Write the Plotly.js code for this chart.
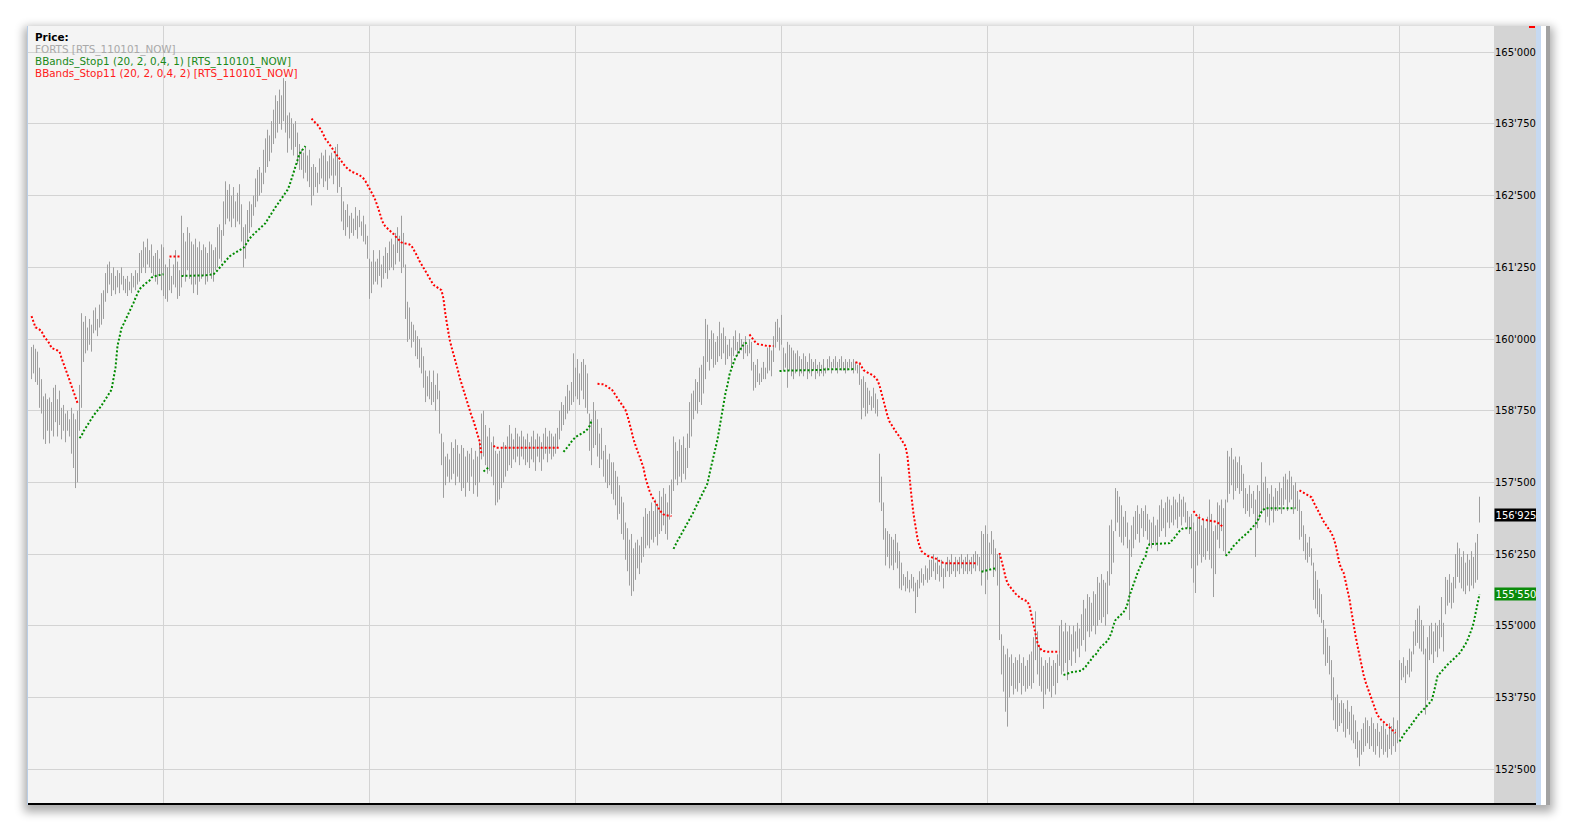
<!DOCTYPE html>
<html>
<head>
<meta charset="utf-8">
<script src="https://cdn.plot.ly/plotly-3.0.1.min.js"></script>
<style>
html,body{margin:0;padding:0;background:#ffffff;width:1576px;height:833px;overflow:hidden;}
#outer{position:absolute;left:27px;top:26px;width:1518px;height:779px;background:#ffffff;
  border-left:1px solid #b9cde5;border-right:4px solid #a2a2a2;
  box-shadow:0 4px 9px 3px rgba(0,0,0,0.33);}
#chart{position:absolute;left:0;top:0;width:1508px;height:777px;}
#bottomline{position:absolute;left:0;top:777px;width:1508px;height:2px;background:#000;}
#bluestrip{position:absolute;left:1508px;top:0;width:5px;height:779px;background:#c6d9f1;}
</style>
</head>
<body>
<div id="outer"><div id="chart"></div><div id="bottomline"></div><div id="bluestrip"></div></div>
<script>
// ---------------- DATA ----------------
const seriesNames = ["FORTS [RTS_110101_NOW]", "BBands_Stop1 (20, 2, 0,4, 1) [RTS_110101_NOW]", "BBands_Stop11 (20, 2, 0,4, 2) [RTS_110101_NOW]"];
const panelTitle = "Price:";
const priceTicks = [152500,153750,155000,156250,157500,158750,160000,161250,162500,163750,165000];
const lastPrice = 156925;

const priceHigh = [159860,159900,159830,159780,159500,159300,159000,159050,158950,158980,
158900,159150,159200,158950,159100,158800,158850,158700,158750,158600,
158800,158700,158600,158750,159200,160450,160300,
160400,160200,160350,160250,160500,160550,160350,160600,160800,160850,161150,161300,161350,161150,
161250,161100,161200,161150,161250,161100,161050,161100,161000,161150,161100,161200,161150,161500,161550,
161700,161600,161750,161550,161650,161450,161500,161550,161400,161650,161600,
161300,161250,161400,161100,161300,161550,161350,161200,162150,161850,161700,161950,161850,161700,
161650,161750,161600,161700,161550,161650,161600,161500,161700,161650,161550,161600,161950,162000,161900,
162400,162750,162600,162700,162500,162650,162400,162550,162700,162350,161950,162000,162250,162400,162350,
162500,162800,162950,163000,162900,163300,163500,163650,163550,163800,164000,164250,164150,164350,164250,
164550,164500,163900,163950,163850,163750,163800,163600,163400,163300,163250,163350,163200,163300,163000,
163050,163000,162900,163150,163250,163200,163300,163100,163200,163250,163150,163350,163400,163100,162650,
162400,162250,162350,162150,162200,162100,162300,162150,162250,162050,162150,162000,161800,161400,161350,
161550,161350,161400,161550,161300,161450,161600,161500,161700,161750,161650,161850,161950,161800,162150,
161850,161300,160650,160550,160300,160250,160150,160050,160000,159850,159700,159450,159350,159450,159250,
159450,159200,159400,159100,158350,158200,157950,158000,157900,158200,158100,158250,158150,158000,158150,
158100,157950,158050,158000,158100,157900,158050,157950,158200,158700,158750,158500,158300,158450,158200,
158300,158050,158000,158050,158100,158200,158150,158300,158500,158350,158250,158450,158350,158300,158400,
158300,158250,158350,158200,158300,158400,158250,158350,158300,158200,158350,158450,158300,158400,158350,
158300,158350,158450,158750,158900,158850,159000,159200,159100,159250,159750,159500,159650,159400,159600,
159650,159550,159400,158700,158600,158900,158750,158600,158350,158450,158050,158150,157900,158000,157850,
157850,157700,157600,157450,157250,157150,156800,156700,156500,156600,156350,156450,156500,156400,156550,
156900,157050,156950,157000,157150,157000,157200,157100,157350,157250,157400,157300,157150,157450,157550,
158300,158200,158050,158250,158150,158300,158100,158350,158900,159050,159100,159300,159250,159500,159550,
159700,160350,160250,160000,160150,160100,159950,160050,160300,160100,160200,160050,159900,160000,159850,
160050,160150,159950,160100,160000,159950,160050,159900,160000,159950,159600,159550,159650,159400,159500,159600,159500,
159850,159900,159800,160050,160300,160350,160200,160420,159850,159750,159950,159900,159850,159800,159750,159800,159700,159650,159750,159700,159600,159750,159650,159600,159650,159550,159600,159550,159650,159500,
159650,159700,159600,159650,159700,159600,159650,159700,159600,159650,159600,159650,159600,159650,159600,159550,
159550,159300,159350,159250,159150,159100,159000,159150,159050,158950,
158000,157600,157150,156700,156650,156600,156550,156500,156600,156450,156300,156100,155900,155850,155950,155800,155900,155850,155750,155800,155950,156000,155900,156050,156000,156150,
156150,156250,156100,156200,156050,156150,156000,156100,156200,156150,156250,156100,156200,156150,156200,156250,156150,156200,156250,156150,156200,156250,156300,156250,156200,
156650,156600,156750,156600,156450,156650,156500,156350,156250,156250,154850,154650,154500,154600,154450,154500,154350,154450,154400,154500,154350,154450,154300,154400,154500,
154550,154800,155250,154900,154650,154450,154300,154400,154350,154450,154300,154400,154350,154500,155000,155100,154900,155050,154900,155000,154850,155000,154900,155050,154950,155200,
155450,155300,155550,155500,155400,155600,155550,155850,155750,155900,155800,155750,155950,156750,156850,156650,157400,157350,157250,157100,156900,157000,156800,156500,156750,156900,
157000,157100,156950,157050,157000,157100,156950,156850,156800,156900,156750,156850,157100,157200,157050,157150,157250,157200,157100,157250,157200,157150,157300,157200,157250,157150,157000,156900,
156950,156800,156650,156900,156950,156750,156850,156700,156900,157200,156950,156650,156750,157150,157100,157200,157050,157200,158050,157950,158100,157900,157950,157850,157950,157800,
157650,157400,157300,157450,157300,157350,157200,157450,157350,157850,157500,157600,157400,157300,157450,157250,157400,157350,157500,157400,157600,157650,157550,157700,157600,157450,157500,157350,
157200,157000,156750,156600,156450,156550,156350,156100,155950,155800,155650,155550,155100,154950,154800,154650,154400,154100,153750,153800,153650,153700,153650,153550,153700,153500,153600,153450,
153350,153150,153000,153200,153300,153400,153350,153250,153400,153300,153200,153300,153150,153250,153300,153200,153100,153300,153250,153400,153200,153350,154400,154350,154450,154300,154400,154600,154550,
154900,155100,155300,155350,155100,155000,154600,154800,155000,155050,154900,155050,155000,155100,155500,155050,155850,155800,155900,155750,155850,156250,156450,156350,156200,156300,156100,156250,156150,156300,156200,156450,156600,157250];

const priceLow = [159300,159400,159250,159200,158800,158700,158250,158170,158400,158180,
158400,158300,158550,158300,158500,158250,158400,158200,158400,158300,
158000,157750,157400,157500,158400,158800,159600,
159750,159800,159900,159780,160100,160150,160050,160200,160250,160350,160650,160800,160950,160750,
160850,160780,160900,160800,160950,160850,160800,160750,160850,160800,160900,160850,160950,161000,161150,
161250,161150,161300,161250,161150,161100,161000,160950,161100,160850,160750,
160700,160650,160850,160800,160950,160900,160700,160750,160900,161100,161000,161200,161050,160950,
160800,160950,160770,161000,161050,161100,160950,161000,161150,161050,161000,161200,161250,161400,161350,
161800,162000,162100,162050,161950,162100,161950,162050,162000,161700,161250,161400,161700,161850,161950,
162150,162300,162400,162500,162550,162700,162900,163000,163100,163250,163400,163500,163600,163750,163650,
163800,163600,163250,163500,163300,163200,163350,163050,162950,162950,162800,162900,162750,162650,162330,
162500,162650,162550,162700,162800,162650,162750,162600,162800,162850,162700,162850,162550,162650,162050,
161900,161800,161950,161750,161850,161800,161900,161750,161950,161800,161700,161650,161400,160700,160800,
160950,161000,160950,161100,160900,161050,161150,161050,161200,161250,161200,161300,161500,161350,161150,
161250,160350,159950,160000,159850,159950,159700,159650,159500,159400,159150,158900,159000,158950,158850,
158900,158750,158950,158350,157800,157230,157450,157600,157500,157550,157650,157450,157600,157500,157350,
157400,157250,157500,157350,157600,157300,157450,157250,157500,157900,157950,157800,157650,157700,157600,
157450,157100,157150,157200,157400,157500,157600,157700,157800,157750,157900,157850,157950,157800,157950,
157900,157800,157850,157750,157900,157850,157700,157950,157850,157700,157900,158000,157850,158000,157900,
157950,158000,158100,158250,158400,158500,158600,158700,158750,158850,158900,159000,158950,158850,159100,
158950,158800,158700,158050,157800,158100,158150,157950,157750,157900,157600,157500,157400,157450,157300,
157200,157100,156850,156950,156600,156500,156150,155950,155700,155520,155600,155800,156000,155900,156100,
156200,156350,156400,156350,156500,156450,156550,156400,156600,156650,156750,156600,156500,156850,156950,
157350,157550,157450,157600,157500,157650,157550,157750,158100,158300,158600,158750,158700,158900,158850,
159050,159300,159600,159450,159650,159500,159550,159600,159700,159650,159750,159550,159650,159700,159500,
159700,159800,159700,159750,159800,159650,159750,159700,159750,159450,159100,159150,159250,159200,159250,159300,159300,
159400,159450,159350,159600,159850,159950,159800,159900,159450,159500,159150,159450,159350,159300,159400,159450,159350,159400,159350,159450,159300,159400,159350,159450,159300,159400,159350,159400,159350,159400,
159450,159500,159400,159500,159450,159400,159500,159450,159450,159400,159450,159500,159450,159400,159450,159400,
159200,158600,158800,158650,158700,158850,158750,158800,158700,158650,
157150,157000,156500,156050,156200,156000,156050,155970,156100,156000,155650,155620,155700,155600,155650,155580,155650,155600,155220,155500,155650,155750,155700,155800,155750,155800,
155850,155950,155800,155900,155770,155850,155650,155850,155950,155850,155900,155950,155850,155950,155900,156000,155900,155950,155900,155950,155900,156000,155950,156050,155950,
155700,155950,155550,155800,156000,156250,155850,155950,155700,154750,154150,153850,153500,153240,153750,153950,153800,153900,153850,154000,153800,153950,153850,153900,153950,
153900,154000,154400,154150,153950,153850,153550,153800,153900,153850,153750,153950,153800,154000,154300,154150,154200,154350,154050,154400,154300,154550,154350,154600,154450,154650,
154750,154550,154900,154800,154900,155000,154850,155000,155100,155050,155150,155000,155200,155700,155900,156100,156650,156800,156550,156450,156400,156550,156350,155100,156200,156350,
156500,156600,156450,156700,156550,156650,156500,156400,156350,156450,156400,156300,156550,156650,156700,156550,156800,156700,156800,156750,156850,156700,156900,156750,156900,156800,156700,156600,
156000,155750,155570,156050,156250,156100,156200,156150,156300,156150,156000,155500,155900,156500,156350,156650,156300,156250,157150,157300,157450,157200,157350,157400,157300,157350,
157050,156950,157000,156900,157050,156950,156200,156700,156850,156950,157000,156800,156900,156750,157000,156800,157000,157000,157100,156950,157100,157200,157000,157150,157200,156950,157050,157000,
156500,156550,156300,156150,156100,156200,156050,155450,155300,155200,155150,155050,154500,154300,154350,154150,153700,153350,153200,153150,153250,153300,153150,153050,153200,153100,153000,152950,
152850,152700,152550,152750,152800,152900,152950,152850,152900,152800,152750,152900,152700,152850,152750,152800,152700,152850,152750,152900,152800,152950,153050,154050,154100,154000,154150,154100,154200,
154500,154650,154700,154600,154550,154500,153450,153700,154400,154500,154350,154550,154450,154600,154800,154550,155200,155350,155400,155300,155400,155650,155850,155750,155650,155600,155550,155700,155600,155700,155650,155750,155800,156800];

// BBands_Stop1 (green) segments: first bar index of each segment and its values
const stop1Starts = [24, 75, 226, 266, 321, 374, 475, 516, 597, 684];
const stop1Values = [
 [158270,158310,158390,158450,158510,158570,158615,158665,158710,158745,158795,158840,158900,158955,159000,159060,159115,159310,159500,159880,160060,160190,160260,160330,160410,160490,160560,160630,160715,160800,160870,160905,160940,160970,160995,161020,161070,161090,161100,161105,161115,161125,161130],
 [161100,161100,161100,161100,161100,161100,161105,161105,161105,161105,161110,161110,161110,161115,161120,161125,161130,
  161160,161200,161240,161290,161330,161370,161410,161440,161465,161485,161505,161525,161545,161565,161590,161640,161700,161750,161790,161830,
  161860,161890,161920,161950,161980,162020,162080,162140,162190,162250,162300,162350,162400,162450,162490,162530,162600,162680,162790,162940,
  163050,163160,163230,163280,163330,163365],
 [157690,157720,157750,157775],
 [158030,158070,158105,158160,158210,158250,158290,158310,158330,158350,158365,158390,158430,158480,158570],
 [156340,156420,156480,156540,156600,156660,156720,156780,156850,156910,156980,157060,157130,157200,157260,157330,157400,157480,157650,157800,157950,158080,158250,158450,158650,158880,159060,159200,159380,159490,159600,159680,159730,159800,159850,159900,159930,159950],
 [159440,159445,159450,159450,159450,159450,159450,159450,159450,159450,159450,159450,159460,159460,159460,159460,159460,159460,159460,159460,159460,159460,159470,159470,159470,159470,159470,159470,159470,159470,159470,159470,159475,159475,159475,159475,159475,159475],
 [155940,155950,155960,155975,155985,155990,155995,156000],
 [154140,154155,154170,154180,154188,154194,154198,154205,154212,154216,154250,154280,154340,154365,154420,154470,154490,154550,154600,154640,
  154670,154690,154735,154800,154880,155010,155100,155135,155170,155195,155235,155290,155380,155520,155620,155720,155856,155920,156000,156080,
  156160,156205,156370,156420,156427,156427,156427,156427,156427,156427,156427,156427,156427,156440,156480,156510,156560,156610,156650,156683,
  156700,156700,156700,156700,156700],
 [156220,156245,156290,156345,156390,156420,156470,156500,156530,156570,156590,156620,156660,156695,156730,156775,156830,156920,156985,157025,
  157050,157050,157050,157050,157050,157050,157050,157050,157050,157050,157050,157050,157050,157050,157050,157050],
 [152980,153040,153100,153150,153180,153230,153280,153330,153390,153430,153470,153500,153540,153570,153610,153650,153690,153810,153950,154120,
  154160,154195,154240,154280,154320,154350,154375,154420,154450,154490,154520,154570,154620,154680,154750,154830,154930,155040,155200,155370,155550]
];

// BBands_Stop11 (red) segments
const stop11Starts = [0, 69, 140, 231, 283, 359, 412, 484, 581, 634];
const stop11Values = [
 [160400,160300,160200,160190,160165,160140,160060,160010,159975,159920,159845,159825,159815,159800,159780,159670,159580,159475,159370,159285,159180,159075,158990,158885],
 [161440,161440,161440,161440,161440,161440],
 [163845,163797,163768,163738,163691,163633,163562,163486,163445,163386,163339,163292,163239,163192,163151,163090,163040,163005,162975,162946,162917,
  162905,162893,162875,162858,162828,162799,162752,162693,162623,162564,162494,162417,162329,162212,162095,162007,161960,161930,161901,161872,
  161831,161789,161754,161713,161684,161672,161666,161660,161649,161625,161566,161508,161437,161361,161302,161244,161185,161114,161050,160991,
  160944,160921,160903,160874,160850,160700,160420,160170,160000,159860,159747,159629,159483,159336,159218,159101,158984,158866,158778,158661,
  158573,158455,158338,158220,157986],
 [158140,158105,158105,158105,158105,158105,158105,158105,158105,158105,158105,158105,158105,158105,158105,158105,158105,158105,158105,158105,158105,158105,158105,158105,158105,158105,158105,158105,158105,158105,158105,158105,158105,158105],
 [159218,159218,159218,159210,159189,159160,159142,159130,159072,159013,158972,158913,158866,158807,158761,158661,158543,158397,158250,158132,
  158044,157956,157868,157751,157574,157457,157352,157270,157199,157146,157093,157017,156976,156941,156929,156917,156917,156911],
 [160080,160030,159990,159940,159915,159905,159895,159885,159880,159878,159878,159878,159878],
 [159593,159590,159582,159520,159460,159435,159415,159400,159380,159360,159320,159280,159190,159050,158900,158780,158660,158560,158500,158450,
  158380,158340,158300,158240,158180,158130,157950,157550,157250,156950,156720,156520,156390,156300,156270,156240,156220,156205,156195,156185,
  156175,156160,156125,156105,156095,156090,156090,156090,156090,156090,156090,156090,156090,156090,156090,156090,156090,156090,156090,156090,156090,156090],
 [156270,156150,156000,155850,155740,155690,155640,155595,155560,155525,155490,155470,155452,155440,155425,155340,155180,155000,154830,154700,
  154620,154576,154560,154550,154547,154547,154547,154547,154547,154547,154547],
 [157000,156950,156900,156880,156862,156850,156843,156839,156835,156831,156827,156815,156800,156770,156740,156715],
 [157360,157340,157310,157290,157270,157258,157240,157160,157090,157030,156970,156890,156820,156770,156720,156670,156615,156530,156420,156250,
  156080,155990,155930,155780,155640,155460,155240,155010,154830,154650,154460,154280,154150,154020,153920,153820,153710,153620,153500,153435,
  153400,153350,153324,153290,153250,153215,153180,153150,153130]
];

// ---------------- BUILD ----------------
const N = priceHigh.length;
const idx = priceHigh.map((_, i) => i);
function expandSegments(starts, values) {
  const out = new Array(N).fill(null);
  starts.forEach((s, k) => values[k].forEach((v, j) => { if (s + j < N) out[s + j] = v; }));
  return out;
}
const stop1 = expandSegments(stop1Starts, stop1Values);
const stop11 = expandSegments(stop11Starts, stop11Values);
const lastStop1 = stop1[N - 1];

const barX = [], barY = [];
for (let i = 0; i < N; i++) { barX.push(i, i, null); barY.push(priceLow[i], priceHigh[i], null); }

const fmt = v => { const s = String(Math.round(v)); return s.slice(0, -3) + "'" + s.slice(-3); };

const W = 1508, H = 777, MR = 42, PW = W - MR;
const FONT = "DejaVu Sans, Verdana, sans-serif";
const GREEN = "#008a00", RED = "#ff0000", GRID = "#d3d3d3";

const traces = [
  {type: 'scatter', mode: 'lines', x: barX, y: barY, connectgaps: false,
   line: {color: '#9e9e9e', width: 1}, hoverinfo: 'skip', showlegend: false},
  {type: 'scatter', mode: 'lines', x: idx, y: stop1, connectgaps: false, name: seriesNames[1],
   line: {color: GREEN, width: 2, dash: '2px,2px'}, showlegend: false},
  {type: 'scatter', mode: 'lines', x: idx, y: stop11, connectgaps: false, name: seriesNames[2],
   line: {color: RED, width: 2, dash: '2px,2px'}, showlegend: false}
];

const legendLines = [
  {text: '<b>' + panelTitle + '</b>', color: '#000000', dy: 11.3},
  {text: seriesNames[0], color: '#a9a9a9', dy: 23.3},
  {text: seriesNames[1], color: '#1a8a1a', dy: 35.3},
  {text: seriesNames[2], color: '#ff1a1a', dy: 47.3}
];
const annotations = legendLines.map(l => ({
  xref: 'paper', yref: 'paper', x: 6 / PW, y: 1 - l.dy / H, xanchor: 'left', yanchor: 'middle',
  text: l.text, showarrow: false, borderpad: 0, font: {family: FONT, size: 10.4, color: l.color}
}));
annotations.push({xref: 'paper', yref: 'y', x: 1, y: lastPrice, xanchor: 'left', yanchor: 'middle',
  text: fmt(lastPrice), showarrow: false, bgcolor: '#000000', borderpad: 0, width: 42, height: 12,
  font: {family: FONT, size: 10, color: '#ffffff'}});
annotations.push({xref: 'paper', yref: 'y', x: 1, y: lastStop1, xanchor: 'left', yanchor: 'middle',
  text: fmt(lastStop1), showarrow: false, bgcolor: '#0b8b0b', borderpad: 0, width: 42, height: 12,
  font: {family: FONT, size: 10, color: '#ffffff'}});

const xGrid = [66, 169, 272, 375, 478, 581, 684];

const layout = {
  width: W, height: H,
  margin: {l: 0, r: MR, t: 0, b: 0, pad: 0},
  paper_bgcolor: '#d4d4d4', plot_bgcolor: '#f4f4f4',
  font: {family: FONT, size: 10, color: '#000'},
  showlegend: false, hovermode: false,
  xaxis: {range: [-1.75, 731.25], tickvals: xGrid, showticklabels: false, ticks: '',
          showgrid: true, gridcolor: GRID, gridwidth: 1, zeroline: false, showline: false, fixedrange: true},
  yaxis: {side: 'right', range: [151908, 165459], tickvals: priceTicks, ticktext: priceTicks.map(fmt),
          ticks: '', showgrid: true, gridcolor: GRID, gridwidth: 1, zeroline: false, showline: false,
          tickfont: {family: FONT, size: 10, color: '#000'}, ticklabelstandoff: 0, fixedrange: true},
  shapes: [
    {type: 'rect', xref: 'paper', yref: 'paper', x0: (1483 - 28) / PW, x1: 1, y0: 0, y1: 1,
     fillcolor: '#f4f4f4', line: {width: 0}, layer: 'between'},
    {type: 'rect', xref: 'paper', yref: 'paper', x0: (1529 - 28) / PW, x1: (1535 - 28) / PW, y0: 1 - 2 / H, y1: 1,
     fillcolor: '#ff0000', line: {width: 0}}
  ],
  annotations: annotations
};

Plotly.newPlot('chart', traces, layout, {staticPlot: true, displayModeBar: false});
</script>
</body>
</html>
